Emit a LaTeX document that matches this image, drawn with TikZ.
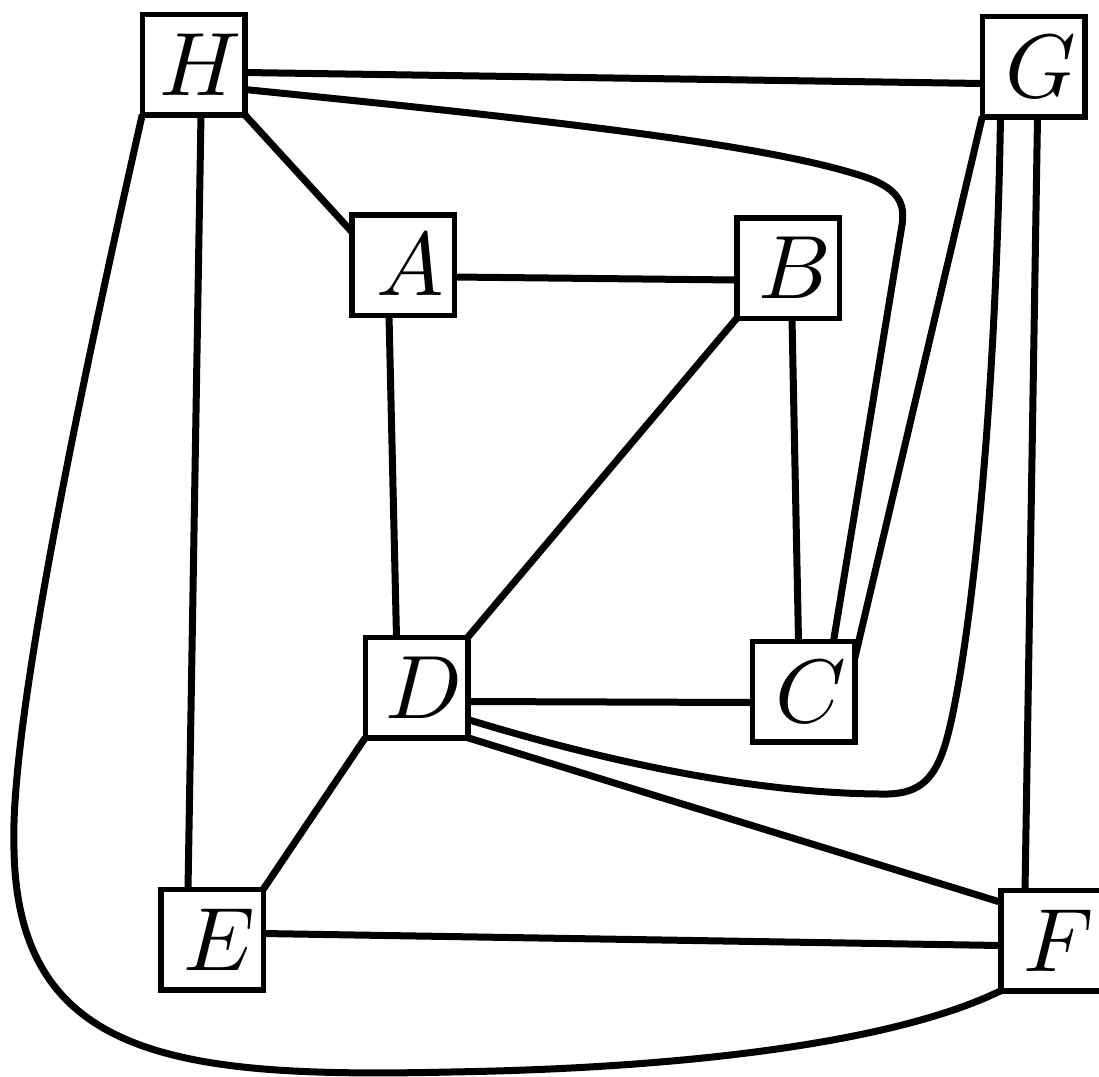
\documentclass[tikz,border=0pt]{standalone}
\usepackage{graphicx}
\usetikzlibrary{calc,backgrounds}
\newcommand{\biglab}[1]{\hspace*{14pt}\scalebox{9.0}{$#1$}}
\tikzset{
  vbox/.style={draw, line width=5.5pt, minimum width=102.5pt, minimum height=100.5pt,
    inner sep=0pt, outer sep=0pt, fill=white},
  edge/.style={line width=7pt, line join=round}
}
\begin{document}
\begin{tikzpicture}[x=1pt,y=-1pt]
\useasboundingbox (0,0) rectangle (1099,1076);
\node[vbox] (H) at (193.5,64.5) {\biglab{H}};
\node[vbox] (G) at (1033.5,66.5) {\biglab{G}};
\node[vbox] (A) at (403,265) {\biglab{A}};
\node[vbox] (B) at (788,268) {\biglab{B}};
\node[vbox] (D) at (416.5,687.5) {\biglab{D}};
\node[vbox] (C) at (803.5,691.5) {\biglab{C}};
\node[vbox] (E) at (212,939.5) {\biglab{E}};
\node[vbox] (F) at (1052,940.5) {\biglab{F}};
\begin{pgfonlayer}{background}
\draw[edge] ($(H.east)+(0,8)$) -- ($(G.west)+(0,17)$);
\draw[edge] (H.south east) -- ($(A.north west)+(0,17)$);
\draw[edge] ($(H.east)+(0,25)$) .. controls (600,125) and (780,148) .. (868,178)
   .. controls (900,190) and (905,205) .. (902,225) -- ($(C.north)+(30,0)$);
\draw[edge] ($(H.south)+(7.5,0)$) -- ($(E.north)+(-24,0)$);
\draw[edge] (H.south west) .. controls (55,500) and (10,750) .. (14,850)
   .. controls (18,1060) and (180,1078) .. (450,1072)
   .. controls (700,1068) and (900,1040) .. (F.south west);
\draw[edge] (G.south west) -- ($(C.north east)+(0,17)$);
\draw[edge] ($(G.south)+(-33,0)$) .. controls (995,450) and (965,680) .. (945,745)
   .. controls (933,784) and (915,795) .. (880,794)
   .. controls (750,793) and (600,760) .. ($(D.east)+(0,32)$);
\draw[edge] ($(G.south)+(4,0)$) -- ($(F.north)+(-27,0)$);
\draw[edge] ($(A.east)+(0,12)$) -- ($(B.west)+(0,12)$);
\draw[edge] ($(A.south)+(-14,0)$) -- ($(D.north)+(-20,0)$);
\draw[edge] (B.south west) -- (D.north east);
\draw[edge] ($(B.south)+(4,0)$) -- ($(C.north)+(-5,0)$);
\draw[edge] ($(D.east)+(0,14)$) -- ($(C.west)+(0,11)$);
\draw[edge] (D.south west) -- (E.north east);
\draw[edge] (D.south east) -- ($(F.north west)+(0,12)$);
\draw[edge] ($(E.east)+(0,-6)$) -- ($(F.west)+(0,5)$);
\end{pgfonlayer}
\end{tikzpicture}
\end{document}
